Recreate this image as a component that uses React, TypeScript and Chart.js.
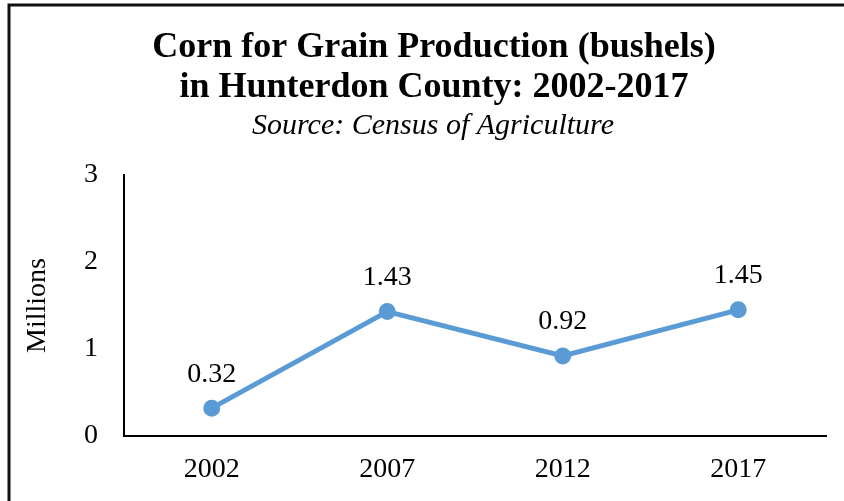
import React, { useEffect, useRef } from "react";
import { Chart, registerables } from "chart.js";

Chart.register(...registerables);

const years = ["2002", "2007", "2012", "2017"];
const production = [0.32, 1.43, 0.92, 1.45];
const valueLabels = ["0.32", "1.43", "0.92", "1.45"];
const titleLines = ["Corn for Grain Production (bushels)", "in Hunterdon County: 2002-2017"];
const subtitleText = "Source: Census of Agriculture";
const yAxisTitle = "Millions";

const SERIF = "'Liberation Serif', 'Times New Roman', Times, serif";
const LINE_COLOR = "#5B9BD5";

const decorPlugin = {
  id: "decor",
  beforeDraw(chart: any) {
    const ctx = chart.ctx;
    ctx.save();
    ctx.fillStyle = "#ffffff";
    ctx.fillRect(0, 0, chart.width, chart.height);
    ctx.restore();
  },
  afterDraw(chart: any) {
    const ctx = chart.ctx;
    const area = chart.chartArea;
    ctx.save();
    // border
    ctx.strokeStyle = "#111111";
    ctx.lineWidth = 3;
    ctx.beginPath();
    ctx.moveTo(9, chart.height + 2);
    ctx.lineTo(9, 5);
    ctx.lineTo(chart.width + 2, 5);
    ctx.stroke();
    // title
    ctx.fillStyle = "#000000";
    ctx.textAlign = "center";
    ctx.textBaseline = "middle";
    ctx.font = `bold 36px ${SERIF}`;
    ctx.fillText(titleLines[0], 434, 48);
    ctx.fillText(titleLines[1], 434, 88);
    ctx.font = `italic 30px ${SERIF}`;
    ctx.fillText(subtitleText, 433, 126);
    // y axis title
    ctx.save();
    ctx.translate(38, (area.top + area.bottom) / 2);
    ctx.rotate(-Math.PI / 2);
    ctx.font = `28px ${SERIF}`;
    ctx.fillText(yAxisTitle, 0, 0);
    ctx.restore();
    // data labels
    const meta = chart.getDatasetMeta(0);
    ctx.font = `28px ${SERIF}`;
    meta.data.forEach((pt: any, i: number) => {
      ctx.fillText(valueLabels[i], pt.x, pt.y - 34);
    });
    ctx.restore();
  },
};

export default function App() {
  const ref = useRef<HTMLCanvasElement | null>(null);
  useEffect(() => {
    if (!ref.current) return;
    const chart = new Chart(ref.current, {
      type: "line",
      data: {
        labels: years,
        datasets: [
          {
            data: production,
            borderColor: LINE_COLOR,
            backgroundColor: LINE_COLOR,
            borderWidth: 5,
            pointRadius: 6,
            pointBackgroundColor: LINE_COLOR,
            pointBorderColor: LINE_COLOR,
            tension: 0,
          },
        ],
      },
      options: {
        responsive: false,
        animation: false,
        layout: { padding: { top: 175, right: 18, left: 0, bottom: 0 } },
        plugins: {
          legend: { display: false },
          tooltip: { enabled: false },
          title: { display: false },
        },
        scales: {
          x: {
            offset: true,
            grid: { display: false, drawTicks: false },
            border: { display: true, color: "#000000", width: 2 },
            ticks: {
              color: "#000000",
              font: { family: SERIF, size: 28 },
              padding: 17,
              maxRotation: 0,
            },
            afterFit(scale: any) {
              scale.height = 65;
            },
          },
          y: {
            min: 0,
            max: 3,
            grid: { display: false, drawTicks: false },
            border: { display: true, color: "#000000", width: 2 },
            ticks: {
              stepSize: 1,
              color: "#000000",
              font: { family: SERIF, size: 28 },
              padding: 26,
            },
            afterFit(scale: any) {
              scale.width = 124;
            },
          },
        },
      },
      plugins: [decorPlugin],
    });
    return () => chart.destroy();
  }, []);
  return (
    <div style={{ position: "absolute", left: 0, top: 0, width: 844, height: 501, background: "#fff" }}>
      <canvas ref={ref} width={844} height={501} style={{ display: "block", width: 844, height: 501 }} />
    </div>
  );
}
